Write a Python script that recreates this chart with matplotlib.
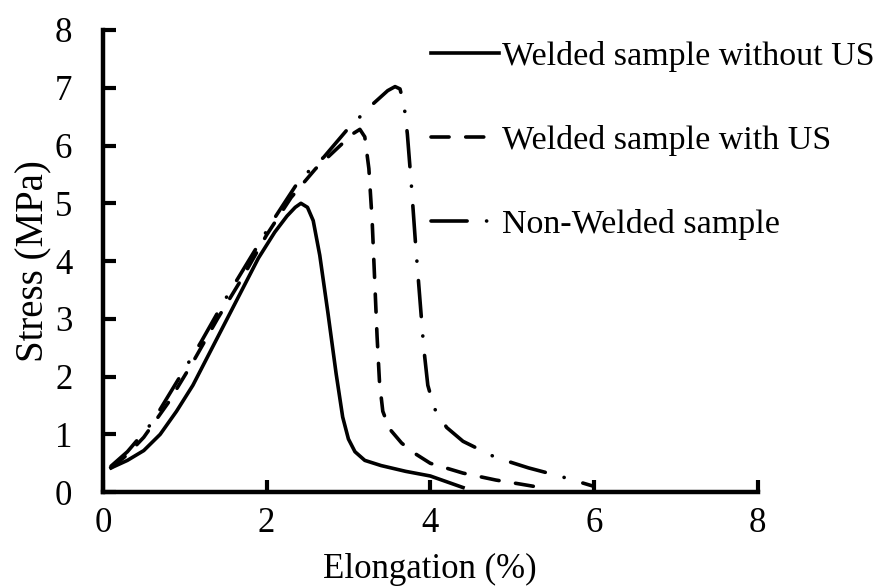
import matplotlib.pyplot as plt

plt.rcParams['font.family'] = ['Liberation Serif', 'DejaVu Serif']
plt.rcParams['lines.scale_dashes'] = False

# 読み取った応力-ひずみ曲線
x_no_us = [0.1, 0.3, 0.5, 0.7, 0.9, 1.1, 1.3, 1.5, 1.7, 1.9, 2.1, 2.25, 2.35, 2.42,
           2.5, 2.57, 2.65, 2.75, 2.85, 2.93, 3.0, 3.08, 3.2, 3.4, 3.7, 4.0, 4.2, 4.4]
y_no_us = [0.42, 0.55, 0.72, 1.0, 1.4, 1.85, 2.4, 2.95, 3.5, 4.05, 4.5, 4.78, 4.93, 5.0,
           4.93, 4.7, 4.1, 3.1, 2.05, 1.3, 0.92, 0.7, 0.55, 0.46, 0.36, 0.28, 0.18, 0.08]

x_us = [0.1, 0.3, 0.5, 0.8, 1.1, 1.4, 1.7, 2.0, 2.3, 2.6, 2.9, 3.05, 3.14,
        3.2, 3.25, 3.29, 3.32, 3.35, 3.38, 3.42, 3.5, 3.65, 3.8, 4.0, 4.4, 4.8, 5.1, 5.35]
y_us = [0.42, 0.65, 0.95, 1.55, 2.25, 3.0, 3.7, 4.45, 5.1, 5.6, 6.0, 6.2, 6.28,
        6.15, 5.6, 4.7, 3.7, 2.7, 1.9, 1.4, 1.1, 0.85, 0.68, 0.5, 0.33, 0.21, 0.14, 0.08]

x_nw = [0.1, 0.3, 0.6, 0.9, 1.2, 1.5, 1.8, 2.1, 2.4, 2.7, 3.0, 3.3, 3.48, 3.57, 3.63,
        3.68, 3.72, 3.77, 3.82, 3.87, 3.92, 3.97, 4.05, 4.2, 4.4, 4.8, 5.2, 5.6, 6.0]
y_nw = [0.45, 0.7, 1.2, 1.9, 2.6, 3.35, 4.05, 4.75, 5.4, 5.8, 6.3, 6.72, 6.95, 7.02, 6.98,
        6.7, 6.2, 5.3, 4.3, 3.4, 2.5, 1.85, 1.45, 1.12, 0.88, 0.6, 0.42, 0.27, 0.1]

labels = ['Welded sample without US', 'Welded sample with US', 'Non-Welded sample']

fig = plt.figure(figsize=(8.79, 5.88), dpi=100)
ax = fig.add_axes([0.117, 0.163, 0.745, 0.786])

lw = 2.6
ax.plot(x_no_us, y_no_us, color='black', lw=lw, label=labels[0])
ax.plot(x_us, y_us, color='black', lw=lw, dashes=(13, 12),
        dash_capstyle='round', label=labels[1])
ax.plot(x_nw, y_nw, color='black', lw=lw, dashes=(26, 14, 0.1, 14),
        dash_capstyle='round', label=labels[2])

ax.set_xlim(0, 8)
ax.set_ylim(0, 8)
ax.set_xticks([0, 2, 4, 6, 8])
ax.set_yticks(range(0, 9))

for s in ['top', 'right']:
    ax.spines[s].set_visible(False)
for s in ['left', 'bottom']:
    ax.spines[s].set_linewidth(3.2)

ax.tick_params(axis='both', direction='in', length=9, width=3, labelsize=25)
ax.tick_params(axis='y', pad=22)
ax.tick_params(axis='x', pad=11)

ax.set_xlabel('Elongation (%)', fontsize=25, labelpad=9)
ax.set_ylabel('Stress (MPa)', fontsize=28, labelpad=2)

ax.legend(loc='upper left', bbox_to_anchor=(0.49, 0.93), bbox_transform=fig.transFigure,
          frameon=False, fontsize=24.5, handlelength=2.0, handletextpad=0.1,
          labelspacing=1.55, borderpad=0, borderaxespad=0)

fig.savefig('out.png', dpi=100)
